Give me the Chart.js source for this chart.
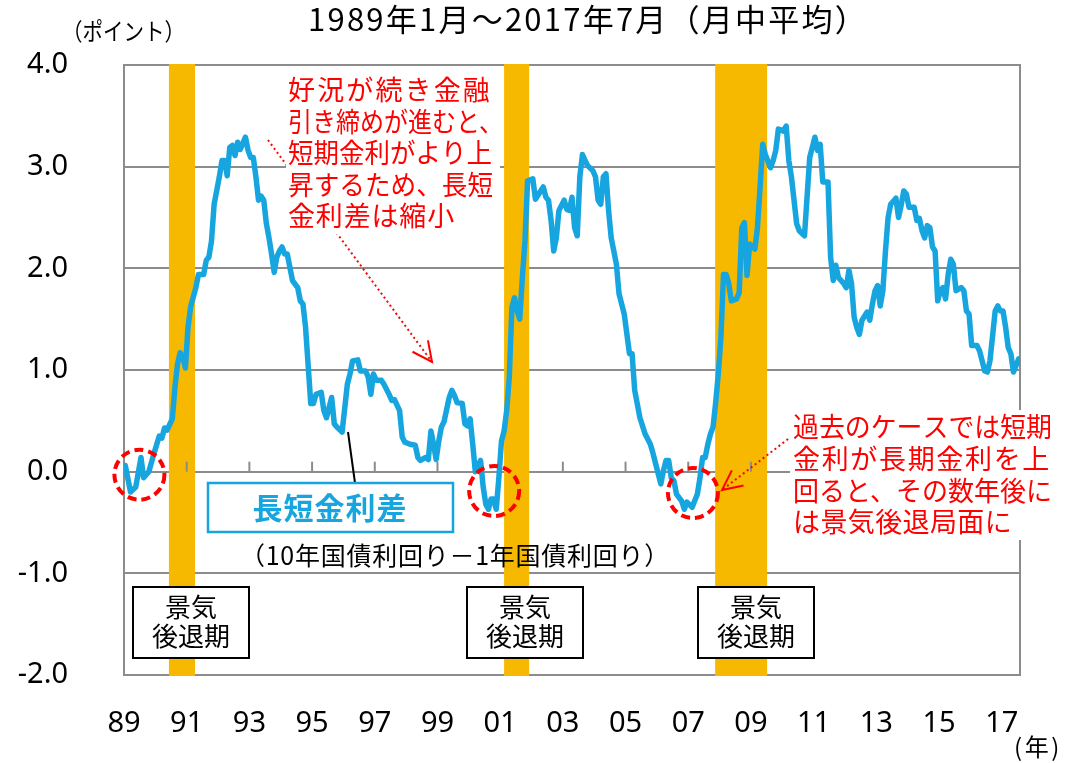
<!DOCTYPE html>
<html lang="ja">
<head>
    <meta charset="UTF-8">
    <title>長短金利差</title>
    <style>
        body {
            margin: 0;
            padding: 0;
            background: #fff;
        }
        #chart-container {
            width: 1072px;
            height: 763px;
            position: relative;
        }
    </style>
</head>
<body>
    <div id="chart-container">
        <canvas id="spreadChart"></canvas>
    </div>

    <script src="https://cdn.jsdelivr.net/npm/chart.js"></script>
    <script>
        // months since Jan 1989 (0 = 1989/01, 342 = 2017/07) and the spread
        var months = [
            0, 2, 4, 6, 7, 9, 11, 13, 14, 15,
            16, 18, 19, 20, 21, 22, 23, 24, 25, 27,
            28, 30, 31, 32, 33, 34, 36, 37, 38, 39,
            40, 41, 42, 43, 44, 46, 47, 48, 49, 50,
            51, 52, 53, 54, 55, 56, 57, 58, 59, 60,
            61, 62, 64, 66, 67, 68, 69, 71, 72, 73,
            75, 76, 77, 79, 80, 81, 83, 85, 86, 87,
            89, 90, 92, 93, 94, 95, 96, 98, 99, 101,
            102, 103, 105, 106, 107, 109, 111, 112, 113, 115,
            116, 117, 118, 119, 120, 121, 122, 124, 125, 126,
            127, 129, 130, 131, 132, 133, 134, 136, 137, 138,
            139, 140, 141, 142, 143, 144, 145, 146, 147, 148,
            149, 150, 151, 152, 153, 154, 156, 157, 159, 160,
            161, 162, 163, 164, 165, 166, 168, 169, 170, 171,
            172, 173, 174, 175, 176, 177, 179, 180, 181, 182,
            183, 184, 185, 186, 188, 189, 191, 193, 194, 195,
            197, 199, 201, 202, 203, 205, 206, 207, 208, 209,
            210, 211, 213, 214, 215, 217, 219, 220, 221, 222,
            223, 224, 225, 226, 227, 228, 229, 230, 231, 232,
            234, 235, 236, 237, 238, 239, 241, 242, 243, 244,
            245, 247, 248, 249, 250, 252, 253, 254, 255, 257,
            258, 260, 262, 264, 265, 266, 267, 269, 270, 271,
            272, 273, 275, 276, 277, 278, 279, 280, 281, 282,
            284, 285, 286, 287, 288, 289, 290, 291, 292, 293,
            295, 296, 297, 298, 299, 300, 302, 303, 304, 305,
            306, 307, 308, 309, 310, 311, 312, 313, 314, 315,
            316, 317, 318, 320, 321, 322, 323, 324, 326, 327,
            329, 330, 331, 333, 334, 335, 336, 337, 338, 339,
            340, 342
        ];
        var spread = [
            0.06, -0.20, -0.15, 0.14, -0.06, 0.00, 0.18, 0.35, 0.33, 0.43,
            0.41, 0.52, 0.83, 1.06, 1.17, 1.13, 1.02, 1.42, 1.62, 1.81,
            1.94, 1.94, 2.08, 2.11, 2.27, 2.63, 2.90, 3.06, 3.06, 2.91,
            3.19, 3.21, 3.11, 3.24, 3.17, 3.29, 3.16, 3.09, 3.09, 2.90,
            2.67, 2.71, 2.67, 2.44, 2.30, 2.14, 1.96, 2.11, 2.17, 2.21,
            2.14, 2.14, 1.88, 1.81, 1.68, 1.65, 1.42, 0.67, 0.67, 0.76,
            0.78, 0.60, 0.53, 0.73, 0.47, 0.44, 0.39, 0.86, 0.96, 1.09,
            1.10, 0.99, 0.99, 0.93, 0.76, 0.96, 0.90, 0.90, 0.86, 0.76,
            0.70, 0.71, 0.60, 0.34, 0.29, 0.27, 0.26, 0.14, 0.11, 0.14,
            0.12, 0.40, 0.27, 0.12, 0.30, 0.44, 0.49, 0.73, 0.80, 0.75,
            0.68, 0.67, 0.47, 0.45, 0.52, 0.27, 0.00, 0.11, -0.15, -0.32,
            -0.37, -0.27, -0.27, -0.37, -0.06, 0.30, 0.40, 0.60, 0.93, 1.62,
            1.71, 1.58, 1.50, 1.91, 2.27, 2.86, 2.88, 2.68, 2.76, 2.80,
            2.70, 2.67, 2.47, 2.17, 2.30, 2.57, 2.67, 2.58, 2.57, 2.70,
            2.40, 2.32, 2.90, 3.12, 3.06, 3.01, 2.96, 2.90, 2.67, 2.63,
            2.90, 2.93, 2.57, 2.30, 2.04, 1.75, 1.55, 1.16, 1.16, 0.80,
            0.53, 0.37, 0.27, 0.18, 0.08, -0.12, 0.01, 0.11, 0.11, -0.06,
            -0.09, -0.22, -0.29, -0.37, -0.30, -0.35, -0.22, -0.06, 0.14, 0.14,
            0.27, 0.37, 0.44, 0.68, 0.96, 1.32, 1.94, 1.94, 1.85, 1.68,
            1.70, 1.76, 2.40, 2.45, 1.93, 2.24, 2.19, 2.40, 2.80, 3.22,
            3.12, 2.99, 3.06, 3.16, 3.37, 3.35, 3.40, 3.06, 2.90, 2.44,
            2.37, 2.32, 3.09, 3.29, 3.16, 3.22, 2.85, 2.85, 2.11, 1.88,
            2.03, 1.91, 1.85, 1.81, 1.98, 1.85, 1.52, 1.42, 1.35, 1.49,
            1.57, 1.49, 1.65, 1.78, 1.83, 1.63, 1.78, 2.17, 2.50, 2.63,
            2.69, 2.50, 2.62, 2.76, 2.73, 2.60, 2.60, 2.47, 2.49, 2.37,
            2.30, 2.42, 2.40, 2.21, 2.17, 1.68, 1.78, 1.81, 1.70, 1.94,
            2.09, 2.04, 1.78, 1.81, 1.78, 1.58, 1.55, 1.24, 1.24, 1.19,
            0.99, 0.98, 1.09, 1.58, 1.63, 1.58, 1.58, 1.42, 1.22, 1.16,
            0.98, 1.11
        ];

        // x axis labels, one every two years
        var yearLabels = ['89', '91', '93', '95', '97', '99', '01', '03', '05', '07', '09', '11', '13', '15', '17'];
        var yearTickMonths = [0, 24, 48, 72, 96, 120, 144, 168, 192, 216, 240, 264, 288, 312, 336];

        // recession bands (景気後退期), in months since Jan 1989
        var recessionFrom = [16.7, 145.0, 225.8];
        var recessionTo = [26.7, 154.6, 245.7];

        // dashed red circles where the spread turned negative
        var circleMonths = [5.4, 141.2, 217.3];
        var circleValues = [-0.03, -0.19, -0.21];

        var JP = '"Noto Sans CJK JP", "Noto Sans", sans-serif';
        var GRID = '#8c8c8c';
        var BLUE = '#17a5df';
        var RED = '#ff0000';

        var points = months.map(function (m, i) { return { x: m, y: spread[i] }; });

        // draw text stretched or squeezed to a given width
        function fitText(ctx, text, x, y, width, align) {
            ctx.letterSpacing = '0px';
            var w = ctx.measureText(text).width;
            var chars = Array.from(text).length;
            var left = align === 'center' ? x - width / 2 : x;
            ctx.textAlign = 'left';
            if (w < width) {
                ctx.letterSpacing = ((width - w) / chars) + 'px';
                ctx.fillText(text, left, y);
            } else {
                ctx.fillText(text, left, y, width);
            }
            ctx.letterSpacing = '0px';
        }

        function arrowHead(ctx, x1, y1, x2, y2, len) {
            var a = Math.atan2(y2 - y1, x2 - x1);
            ctx.beginPath();
            ctx.moveTo(x2 - len * Math.cos(a - 0.45), y2 - len * Math.sin(a - 0.45));
            ctx.lineTo(x2, y2);
            ctx.lineTo(x2 - len * Math.cos(a + 0.45), y2 - len * Math.sin(a + 0.45));
            ctx.stroke();
        }

        var decorPlugin = {
            id: 'decor',
            beforeDatasetsDraw: function (chart) {
                var ctx = chart.ctx, area = chart.chartArea, xs = chart.scales.x;
                ctx.save();
                ctx.fillStyle = '#f7b900';
                for (var i = 0; i < recessionFrom.length; i++) {
                    var a = xs.getPixelForValue(recessionFrom[i]);
                    var b = xs.getPixelForValue(recessionTo[i]);
                    ctx.fillRect(a, area.top - 1, b - a, area.bottom - area.top + 2);
                }
                // small tick marks on the zero line
                var y0 = chart.scales.y.getPixelForValue(0);
                ctx.strokeStyle = GRID;
                ctx.lineWidth = 2;
                yearTickMonths.forEach(function (m) {
                    var x = xs.getPixelForValue(m - 0.5);
                    ctx.beginPath();
                    ctx.moveTo(x, y0 - 10);
                    ctx.lineTo(x, y0);
                    ctx.stroke();
                });
                // right frame
                ctx.beginPath();
                ctx.moveTo(area.right, area.top - 1);
                ctx.lineTo(area.right, area.bottom + 1);
                ctx.stroke();
                ctx.restore();
            },
            afterDatasetsDraw: function (chart) {
                var ctx = chart.ctx, xs = chart.scales.x, ys = chart.scales.y;
                ctx.save();
                ctx.textBaseline = 'middle';

                // dashed circles
                ctx.strokeStyle = RED;
                ctx.lineWidth = 4;
                ctx.setLineDash([9, 5]);
                circleMonths.forEach(function (m, i) {
                    ctx.beginPath();
                    ctx.arc(xs.getPixelForValue(m), ys.getPixelForValue(circleValues[i]), 25, 0, Math.PI * 2);
                    ctx.stroke();
                });

                // dotted arrows
                ctx.lineWidth = 2;
                ctx.setLineDash([2, 3]);
                ctx.beginPath();
                ctx.moveTo(268, 140);
                ctx.lineTo(432, 362);
                ctx.moveTo(792, 436);
                ctx.lineTo(722, 490);
                ctx.stroke();
                ctx.setLineDash([]);
                arrowHead(ctx, 268, 140, 432, 362, 22);
                arrowHead(ctx, 792, 436, 722, 490, 22);

                // annotation boxes
                ctx.fillStyle = '#fff';
                ctx.fillRect(286, 68, 214, 166);
                ctx.fillRect(790, 410, 282, 130);
                ctx.fillStyle = RED;
                ctx.font = '27px ' + JP;
                var note1 = ['好況が続き金融', '引き締めが進むと、', '短期金利がより上', '昇するため、長短', '金利差は縮小'];
                var note1W = [204, 215, 204, 205, 167];
                note1.forEach(function (t, i) { fitText(ctx, t, 288, 90 + i * 31.5, note1W[i]); });
                var note2 = ['過去のケースでは短期', '金利が長期金利を上', '回ると、その数年後に', 'は景気後退局面に'];
                var note2W = [259, 258, 259, 219];
                note2.forEach(function (t, i) { fitText(ctx, t, 793, 427 + i * 31.7, note2W[i]); });

                // leader line and series label box
                ctx.strokeStyle = '#000';
                ctx.lineWidth = 2;
                ctx.beginPath();
                ctx.moveTo(348, 432);
                ctx.lineTo(355, 483);
                ctx.stroke();
                ctx.fillStyle = '#fff';
                ctx.fillRect(208, 483, 245, 49);
                ctx.strokeStyle = BLUE;
                ctx.lineWidth = 2.5;
                ctx.strokeRect(208, 483, 245, 49);
                ctx.fillStyle = BLUE;
                ctx.font = 'bold 30px ' + JP;
                fitText(ctx, '長短金利差', 330, 508, 155, 'center');

                ctx.fillStyle = '#000';
                ctx.font = '25px ' + JP;
                fitText(ctx, '（10年国債利回り－1年国債利回り）', 240, 555, 430);

                // recession label boxes
                [133, 467, 698].forEach(function (x) {
                    ctx.fillStyle = '#fff';
                    ctx.fillRect(x, 587, 116, 71);
                    ctx.strokeStyle = '#000';
                    ctx.lineWidth = 2;
                    ctx.strokeRect(x, 587, 116, 71);
                    ctx.fillStyle = '#000';
                    ctx.font = '26px ' + JP;
                    ctx.textAlign = 'center';
                    ctx.fillText('景気', x + 58, 607);
                    ctx.fillText('後退期', x + 58, 636);
                });

                // title and unit labels
                ctx.fillStyle = '#000';
                ctx.font = '31px ' + JP;
                fitText(ctx, '1989年1月～2017年7月（月中平均）', 308, 19, 560);
                ctx.font = '24px ' + JP;
                fitText(ctx, '（ポイント）', 62, 31, 123);
                ctx.font = '24px ' + JP;
                fitText(ctx, '(年)', 1014, 747, 48);
                ctx.restore();
            }
        };

        var ctx = document.getElementById('spreadChart').getContext('2d');
        var spreadChart = new Chart(ctx, {
            type: 'line',
            data: {
                datasets: [{
                    label: '長短金利差',
                    data: points,
                    borderColor: BLUE,
                    borderWidth: 5.5,
                    borderCapStyle: 'round',
                    borderJoinStyle: 'round',
                    pointRadius: 0,
                    tension: 0,
                    fill: false
                }]
            },
            options: {
                responsive: true,
                maintainAspectRatio: false,
                devicePixelRatio: 1,
                animation: false,
                layout: {
                    padding: { top: 65, right: 52, bottom: 0, left: 0 }
                },
                plugins: {
                    legend: { display: false },
                    title: { display: false },
                    tooltip: { enabled: false }
                },
                scales: {
                    x: {
                        type: 'linear',
                        min: -0.5,
                        max: 342.5,
                        afterFit: function (scale) {
                            scale.height = 88;
                            scale.paddingLeft = 0;
                            scale.paddingRight = 0;
                        },
                        afterBuildTicks: function (scale) {
                            scale.ticks = yearTickMonths.map(function (m) { return { value: m - 0.5 }; });
                        },
                        ticks: {
                            autoSkip: false,
                            maxRotation: 0,
                            padding: 31,
                            color: '#000',
                            font: { family: '"Noto Sans", sans-serif', size: 29 },
                            callback: function (value, index) { return yearLabels[index]; }
                        },
                        grid: { display: false, drawTicks: false },
                        border: { display: false }
                    },
                    y: {
                        min: -2,
                        max: 4,
                        afterFit: function (scale) {
                            scale.width = 124;
                            scale.paddingTop = 0;
                            scale.paddingBottom = 0;
                        },
                        ticks: {
                            stepSize: 1,
                            padding: 56,
                            color: '#000',
                            font: { family: '"Noto Sans", sans-serif', size: 29 },
                            callback: function (value) { return value.toFixed(1); }
                        },
                        grid: { color: GRID, lineWidth: 2, drawTicks: false },
                        border: { display: true, color: GRID, width: 2 }
                    }
                }
            },
            plugins: [decorPlugin]
        });
    </script>
</body>
</html>
